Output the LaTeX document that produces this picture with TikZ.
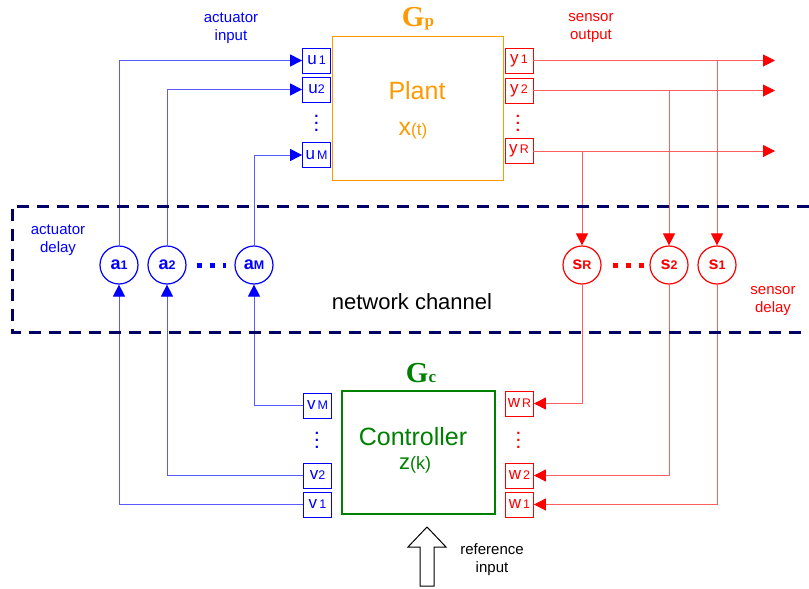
\documentclass[tikz,border=0pt]{standalone}
\usepackage{fontspec}
\setmainfont{Liberation Sans}
\newfontfamily\gfont{Liberation Serif}
\usetikzlibrary{positioning,arrows.meta,calc}
\definecolor{PlantOrange}{RGB}{255,153,0}
\definecolor{CtrlGreen}{RGB}{0,128,0}
\definecolor{ActBlue}{RGB}{0,0,255}
\definecolor{ActLine}{RGB}{90,90,255}
\definecolor{SenRed}{RGB}{255,0,0}
\definecolor{SenLine}{RGB}{255,95,95}
\definecolor{ChannelNavy}{RGB}{0,0,102}
\newcommand\psub[1]{{\fontsize{12.5}{12.5}\selectfont#1}}
\newcommand\fsz[1]{\fontsize{#1}{#1}\selectfont}
\newcommand\portvdots{\rlap{.}\rlap{\raisebox{7pt}{.}}\raisebox{14pt}{.}}
\tikzset{
  actflow/.style={-{Triangle[length=12pt,width=12pt,color=ActBlue]},draw=ActLine,line width=1pt},
  senflow/.style={-{Triangle[length=12pt,width=12pt,color=SenRed]},draw=SenLine,line width=1pt},
  plantbox/.style={draw=PlantOrange,line width=1pt,minimum width=171pt,minimum height=144pt,inner sep=0pt},
  ctrlbox/.style={draw=CtrlGreen,line width=2pt,minimum width=153pt,minimum height=123pt,inner sep=0pt},
  uport/.style={draw=ActBlue,line width=0.8pt,minimum width=28pt,minimum height=25pt,inner sep=0pt,
    text=ActBlue,font=\fsz{17}},
  yport/.style={draw=SenRed,line width=0.8pt,minimum width=28pt,minimum height=25pt,inner sep=0pt,
    text=SenRed,font=\fsz{17}},
  portdots/.style={inner sep=0pt,font=\bfseries\fsz{15}},
  actdelay/.style={circle,draw=ActBlue,line width=1.2pt,minimum size=38pt,inner sep=0pt,
    text=ActBlue,font=\bfseries\fsz{18}},
  sendelay/.style={circle,draw=SenRed,line width=1.2pt,minimum size=38pt,inner sep=0pt,
    text=SenRed,font=\bfseries\fsz{18}},
  actdots/.style={draw=ActBlue,line width=5pt,dash pattern=on 5pt off 8pt},
  sendots/.style={draw=SenRed,line width=5pt,dash pattern=on 5pt off 8pt},
  channel/.style={draw=ChannelNavy,line width=3pt,dash pattern=on 12pt off 8pt},
  note/.style={align=center,font=\fsz{15},inner sep=0pt}
}

\begin{document}
\begin{tikzpicture}[x=1pt,y=-1pt]
  \useasboundingbox (0,0) rectangle (809,589);
  % plant
  \node[plantbox] (plant) at (417.5,108) {};
  \node[text=PlantOrange,font=\fsz{25}] (plantname) at (417,91) {Plant};
  \node[text=PlantOrange,font=\fsz{25}] (plantstate) at (413,131) {x{\fsz{17}(t)}};
  \node[text=PlantOrange,font=\gfont\bfseries\fsz{29}] (gp) at (418,19) {G{\fsz{17}p}};
  \node[uport] (u1) at (316.5,60.5) {u\psub{\,1}};
  \node[uport] (u2) at (316.5,89.5) {u\psub{2}};
  \node[portdots,text=ActBlue] (udots) at (316.5,123) {\portvdots};
  \node[uport] (uM) at (316.5,155) {u\psub{\,M}};
  \node[yport] (y1) at (519,60.5) {y\psub{\,1}};
  \node[yport] (y2) at (519,90.5) {y\psub{\,2}};
  \node[portdots,text=SenRed] (ydots) at (518,123) {\portvdots};
  \node[yport] (yR) at (519,151) {y\psub{\,R}};
  \node[note,text=ActBlue] (actin) at (231,28) {actuator\\[3pt]input};
  \node[note,text=SenRed] (senout) at (591,28) {sensor\\[3pt]output};
  \coordinate (outx) at (775,0);
  % network channel
  \node[actdelay] (a1) at (119,265) {a\psub{1}};
  \node[actdelay] (a2) at (167,265) {a\psub{2}};
  \node[actdelay] (aM) at (254,265) {a\psub{M}};
  \node[sendelay] (sR) at (582,265) {s\psub{R}};
  \node[sendelay] (s2) at (669,265) {s\psub{2}};
  \node[sendelay] (s1) at (717,265) {s\psub{1}};
  \draw[actdots] ([xshift=10pt]a2.east) -- ([xshift=-8pt]aM.west);
  \draw[sendots] ([xshift=11pt]sR.east) -- ([xshift=-5pt]s2.west);
  \node[note,text=ActBlue] (actdelaylabel) at (58,240) {actuator\\[3pt]delay};
  \node[note,text=SenRed] (sendelaylabel) at (773,301) {sensor\\[3pt]delay};
  \node[font=\fsz{22}] (netlabel) at (412,302) {network channel};
  % controller
  \node[ctrlbox] (ctrl) at (418,452) {};
  \node[text=CtrlGreen,font=\fsz{25}] (ctrlname) at (413,437) {Controller};
  \node[text=CtrlGreen,font=\fsz{22}] (ctrlstate) at (415,465) {z{\fsz{18}(k)}};
  \node[text=CtrlGreen,font=\gfont\bfseries\fsz{29}] (gc) at (421,373) {G{\fsz{17}c}};
  \node[uport] (vM) at (317.5,405.5) {v\psub{\,M}};
  \node[portdots,text=ActBlue] (vdots) at (317,440) {\portvdots};
  \node[uport] (v2) at (317.5,475.5) {v\psub{2}};
  \node[uport] (v1) at (317.5,504.5) {v\psub{\,1}};
  \node[yport] (wR) at (519.5,403.5) {w\psub{\,R}};
  \node[portdots,text=SenRed] (wdots) at (518.5,440) {\portvdots};
  \node[yport] (w2) at (519.5,475.5) {w\psub{\,2}};
  \node[yport] (w1) at (519.5,504.5) {w\psub{\,1}};
  % actuator side
  \draw[actflow] (a1.north) |- (u1.west);
  \draw[actflow] (a2.north) |- (u2.west);
  \draw[actflow] (aM.north) |- (uM.west);
  \draw[actflow] (v1.west) -| (a1.south);
  \draw[actflow] (v2.west) -| (a2.south);
  \draw[actflow] (vM.west) -| (aM.south);
  % sensor side
  \draw[senflow] (y1.east) -- (y1.east -| outx);
  \draw[senflow] (y2.east) -- (y2.east -| outx);
  \draw[senflow] (yR.east) -- (yR.east -| outx);
  \draw[senflow] (s1 |- y1.east) -- (s1.north);
  \draw[senflow] (s2 |- y2.east) -- (s2.north);
  \draw[senflow] (sR |- yR.east) -- (sR.north);
  \draw[senflow] (s1.south) |- (w1.east);
  \draw[senflow] (s2.south) |- (w2.east);
  \draw[senflow] (sR.south) |- (wR.east);
  \draw[channel] (809,206) -- (12,206) -- (12,332) -- (809,332);
  % reference input
  \coordinate (reftip) at (427,527);
  \draw[line width=1pt] (reftip) -- ++(19,20) -- ++(-12,0) -- ++(0,39) -- ++(-14,0)
    -- ++(0,-39) -- ++(-12,0) -- cycle;
  \node[note] (reflabel) at (492,560) {reference\\[3pt]input};
\end{tikzpicture}
\end{document}
